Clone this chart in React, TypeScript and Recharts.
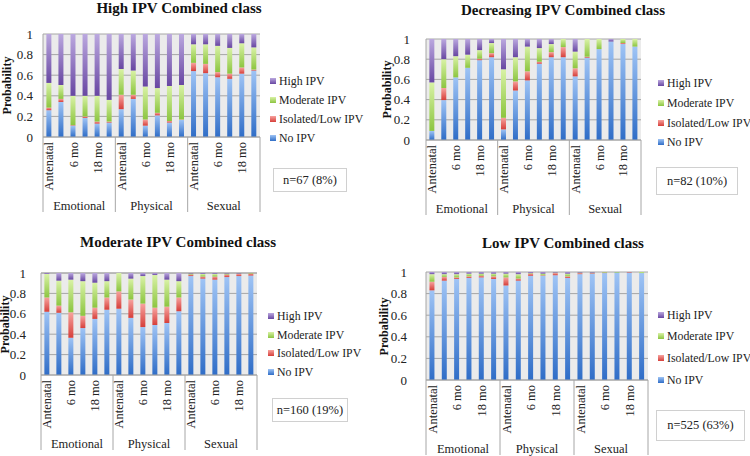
import { Bar, BarChart, CartesianGrid, XAxis, YAxis } from "recharts";

const FONT = "'Liberation Serif', 'DejaVu Serif', serif";
const AXIS = "#a6a6a6";

const groups = ["Emotional", "Physical", "Sexual"];
const timeLabels = ["Antenatal", "", "6 mo", "", "18 mo", ""];
const yTicks = [0, 0.2, 0.4, 0.6, 0.8, 1];

// legend order top -> bottom
const legendKeys = ["high", "mod", "iso", "no"];
const seriesNames: Record<string, string> = {
  no: "No IPV",
  iso: "Isolated/Low IPV",
  mod: "Moderate IPV",
  high: "High IPV",
};
const seriesColors: Record<string, [string, string]> = {
  no: ["#9fc4f5", "#2f6dc7"],
  iso: ["#f7a39f", "#d63f3a"],
  mod: ["#d9f2a6", "#8cc540"],
  high: ["#bba8df", "#6847a2"],
};

// High IPV Combined class
const highClassNo = [0.26, 0.34, 0.11, 0.185, 0.13, 0.14, 0.27, 0.37, 0.11, 0.21, 0.14, 0.165, 0.64, 0.62, 0.58, 0.565, 0.615, 0.645];
const highClassIso = [0.025, 0.03, 0.005, 0.015, 0.02, 0.01, 0.14, 0.04, 0.06, 0.025, 0.015, 0.005, 0.08, 0.09, 0.05, 0.05, 0.06, 0.01];
const highClassMod = [0.24, 0.135, 0.285, 0.2, 0.25, 0.21, 0.25, 0.235, 0.32, 0.24, 0.34, 0.335, 0.18, 0.19, 0.255, 0.25, 0.235, 0.215];
const highClassHigh = [0.475, 0.495, 0.6, 0.6, 0.6, 0.64, 0.34, 0.355, 0.51, 0.525, 0.505, 0.495, 0.1, 0.1, 0.115, 0.135, 0.09, 0.13];

// Decreasing IPV Combined class
const decClassNo = [0.09, 0.395, 0.62, 0.715, 0.79, 0.82, 0.105, 0.49, 0.59, 0.755, 0.82, 0.82, 0.63, 0.815, 0.9, 0.975, 0.95, 0.925];
const decClassIso = [0, 0.12, 0, 0, 0.015, 0.04, 0.115, 0.09, 0.09, 0.02, 0.05, 0.1, 0.08, 0.01, 0, 0, 0.01, 0];
const decClassMod = [0.48, 0.285, 0.21, 0.13, 0.085, 0.1, 0.48, 0.24, 0.245, 0.135, 0.08, 0.08, 0.165, 0.175, 0.1, 0, 0.04, 0.075];
const decClassHigh = [0.43, 0.2, 0.17, 0.155, 0.11, 0.04, 0.3, 0.18, 0.075, 0.09, 0.05, 0, 0.125, 0, 0, 0.025, 0, 0];

// Moderate IPV Combined class
const modClassNo = [0.62, 0.61, 0.365, 0.46, 0.55, 0.64, 0.65, 0.56, 0.47, 0.49, 0.51, 0.625, 0.97, 0.945, 0.935, 0.96, 0.97, 0.975];
const modClassIso = [0.14, 0.07, 0.25, 0.12, 0.11, 0.12, 0.17, 0.18, 0.23, 0.17, 0.16, 0.135, 0.015, 0.02, 0.03, 0.025, 0.02, 0.02];
const modClassMod = [0.23, 0.245, 0.32, 0.34, 0.245, 0.16, 0.18, 0.205, 0.27, 0.32, 0.265, 0.16, 0.01, 0.025, 0.025, 0.01, 0.005, 0.005];
const modClassHigh = [0.01, 0.075, 0.065, 0.08, 0.095, 0.08, 0, 0.055, 0.03, 0.02, 0.065, 0.08, 0.005, 0.01, 0.01, 0.005, 0.005, 0];

// Low IPV Combined class
const lowClassNo = [0.83, 0.92, 0.935, 0.945, 0.95, 0.935, 0.875, 0.92, 0.965, 0.965, 0.97, 0.945, 0.98, 0.985, 0.99, 0.995, 0.995, 0.99];
const lowClassIso = [0.08, 0.035, 0.015, 0.015, 0.015, 0.025, 0.075, 0.02, 0.02, 0.005, 0.02, 0.015, 0.01, 0.005, 0.005, 0, 0.005, 0];
const lowClassMod = [0.07, 0.025, 0.03, 0.025, 0.02, 0.025, 0.035, 0.04, 0.005, 0.015, 0.005, 0.025, 0.005, 0.005, 0.005, 0.005, 0, 0.01];
const lowClassHigh = [0.02, 0.02, 0.02, 0.015, 0.015, 0.015, 0.015, 0.02, 0.01, 0.015, 0.005, 0.015, 0.005, 0.005, 0, 0, 0, 0];

const categories = groups.flatMap((group) =>
  timeLabels.map((label, pos) => ({ key: `${group}-${pos}`, group, label, pos }))
);

type Box = { left: number; top: number; right: number; bottom: number };

type PanelSpec = {
  id: string;
  title: string;
  note: string;
  x: number;
  y: number;
  plot: Box;
  yGap: number;
  probX: number;
  titleX: number;
  titleY: number;
  legX: number;
  legY: number[];
  box: [number, number, number, number];
  values: Record<string, number[]>;
};

const panels: PanelSpec[] = [
  {
    id: "p1",
    title: "High IPV Combined class",
    note: "n=67 (8%)",
    x: 0,
    y: 0,
    plot: { left: 43, top: 34, right: 260, bottom: 137 },
    yGap: 10,
    probX: 8,
    titleX: 179,
    titleY: 8,
    legX: 270,
    legY: [81, 100, 119, 138],
    box: [273, 168, 74, 24],
    values: { no: highClassNo, iso: highClassIso, mod: highClassMod, high: highClassHigh },
  },
  {
    id: "p2",
    title: "Decreasing IPV Combined class",
    note: "n=82 (10%)",
    x: 375,
    y: 0,
    plot: { left: 51, top: 39, right: 266, bottom: 140 },
    yGap: 16,
    probX: 13,
    titleX: 188,
    titleY: 10,
    legX: 283,
    legY: [83, 103, 123, 142],
    box: [281, 167, 82, 28],
    values: { no: decClassNo, iso: decClassIso, mod: decClassMod, high: decClassHigh },
  },
  {
    id: "p3",
    title: "Moderate IPV Combined class",
    note: "n=160 (19%)",
    x: 0,
    y: 228,
    plot: { left: 41, top: 45, right: 257, bottom: 147 },
    yGap: 15,
    probX: 6,
    titleX: 178,
    titleY: 14,
    legX: 268,
    legY: [88, 107, 125, 144],
    box: [272, 170, 76, 24],
    values: { no: modClassNo, iso: modClassIso, mod: modClassMod, high: modClassHigh },
  },
  {
    id: "p4",
    title: "Low IPV Combined class",
    note: "n=525 (63%)",
    x: 375,
    y: 228,
    plot: { left: 51, top: 44, right: 273, bottom: 152 },
    yGap: 19,
    probX: 10,
    titleX: 188,
    titleY: 15,
    legX: 283,
    legY: [87, 108, 130, 152],
    box: [281, 182, 89, 31],
    values: { no: lowClassNo, iso: lowClassIso, mod: lowClassMod, high: lowClassHigh },
  },
];

const W = 375;
const H = 228;

function XTick(props: any) {
  const { x, y, payload, bw } = props;
  const index = props.index ?? payload?.index ?? 0;
  const cat = categories[index];
  if (!cat) return null;
  const left = x - bw / 2;
  return (
    <g>
      {cat.pos === 0 && <line x1={left} x2={left} y1={y} y2={y + 75} stroke={AXIS} />}
      {index === categories.length - 1 && (
        <line x1={x + bw / 2} x2={x + bw / 2} y1={y} y2={y + 75} stroke={AXIS} />
      )}
      {cat.label && (
        <text
          transform={`translate(${x},${y + 5}) rotate(-90)`}
          textAnchor="end"
          dy="0.35em"
          fontSize={12.5}
          fontFamily={FONT}
          fill="#222"
        >
          {cat.label}
        </text>
      )}
      {cat.pos === 0 && (
        <text
          x={left + bw * 3}
          y={y + 69}
          textAnchor="middle"
          dy="0.35em"
          fontSize={12.5}
          fontFamily={FONT}
          fill="#222"
        >
          {cat.group}
        </text>
      )}
    </g>
  );
}

function Panel({ spec }: { spec: PanelSpec }) {
  const { plot } = spec;
  const data = categories.map((c, i) => ({
    key: c.key,
    no: spec.values.no[i],
    iso: spec.values.iso[i],
    mod: spec.values.mod[i],
    high: spec.values.high[i],
  }));
  const bw = (plot.right - plot.left) / categories.length;

  return (
    <div style={{ position: "absolute", left: spec.x, top: spec.y, width: W, height: H }}>
      <div style={{ position: "absolute", left: 0, top: 0 }}>
        <BarChart
          width={W}
          height={H}
          data={data}
          margin={{ top: plot.top, right: W - plot.right, bottom: 0, left: 0 }}
          barCategoryGap="28%"
        >
          <defs>
            {Object.keys(seriesColors).map((k) => (
              <linearGradient key={k} id={`${spec.id}-${k}`} x1="0" y1="0" x2="0" y2="1">
                <stop offset="0%" stopColor={seriesColors[k][0]} />
                <stop offset="100%" stopColor={seriesColors[k][1]} />
              </linearGradient>
            ))}
          </defs>
          <CartesianGrid vertical={false} stroke={AXIS} fill="#ebebeb" fillOpacity={1} />
          <XAxis
            dataKey="key"
            height={H - plot.bottom}
            interval={0}
            tickLine={false}
            tickSize={0}
            tickMargin={0}
            axisLine={{ stroke: AXIS }}
            tick={(p: any) => <XTick {...p} bw={bw} />}
          />
          <YAxis
            width={plot.left}
            domain={[0, 1]}
            ticks={yTicks}
            interval={0}
            tickLine={false}
            tickSize={0}
            tickMargin={spec.yGap}
            axisLine={{ stroke: AXIS }}
            tick={{ fontSize: 13, fontFamily: FONT, fill: "#222" }}
          />
          <YAxis
            yAxisId="frame"
            orientation="right"
            width={0}
            domain={[0, 1]}
            tick={false}
            tickLine={false}
            axisLine={{ stroke: AXIS }}
          />
          {["no", "iso", "mod", "high"].map((k) => (
            <Bar
              key={k}
              dataKey={k}
              name={seriesNames[k]}
              stackId="a"
              fill={`url(#${spec.id}-${k})`}
              isAnimationActive={false}
            />
          ))}
        </BarChart>
      </div>
      <div
        style={{
          position: "absolute",
          left: 0,
          width: spec.titleX * 2,
          top: spec.titleY - 10,
          lineHeight: "20px",
          textAlign: "center",
          fontFamily: FONT,
          fontWeight: "bold",
          fontSize: 15,
          color: "#111",
          whiteSpace: "nowrap",
        }}
      >
        {spec.title}
      </div>
      <div
        style={{
          position: "absolute",
          left: spec.probX - 10,
          top: (plot.top + plot.bottom) / 2 - 10,
          width: 20,
          height: 20,
          display: "flex",
          alignItems: "center",
          justifyContent: "center",
        }}
      >
        <div
          style={{
            transform: "rotate(-90deg)",
            fontFamily: FONT,
            fontWeight: "bold",
            fontSize: 12,
            color: "#111",
            whiteSpace: "nowrap",
          }}
        >
          Probability
        </div>
      </div>
      {legendKeys.map((k, i) => (
        <div
          key={k}
          style={{
            position: "absolute",
            left: spec.legX,
            top: spec.legY[i] - 8,
            height: 16,
            display: "flex",
            alignItems: "center",
            fontFamily: FONT,
            fontSize: 11.8,
            color: "#222",
            whiteSpace: "nowrap",
          }}
        >
          <span
            style={{
              display: "inline-block",
              width: 6,
              height: 6,
              marginRight: 3,
              background: `linear-gradient(${seriesColors[k][0]}, ${seriesColors[k][1]})`,
            }}
          />
          {seriesNames[k]}
        </div>
      ))}
      <div
        style={{
          position: "absolute",
          left: spec.box[0],
          top: spec.box[1],
          width: spec.box[2],
          height: spec.box[3],
          boxSizing: "border-box",
          border: "1px solid #d0d0d0",
          display: "flex",
          alignItems: "center",
          justifyContent: "center",
          fontFamily: FONT,
          fontSize: 12.5,
          color: "#222",
        }}
      >
        {spec.note}
      </div>
    </div>
  );
}

export default function App() {
  return (
    <div
      style={{
        position: "absolute",
        left: 0,
        top: 0,
        width: 750,
        height: 456,
        background: "#fff",
        overflow: "hidden",
      }}
    >
      {panels.map((p) => (
        <Panel key={p.id} spec={p} />
      ))}
    </div>
  );
}
